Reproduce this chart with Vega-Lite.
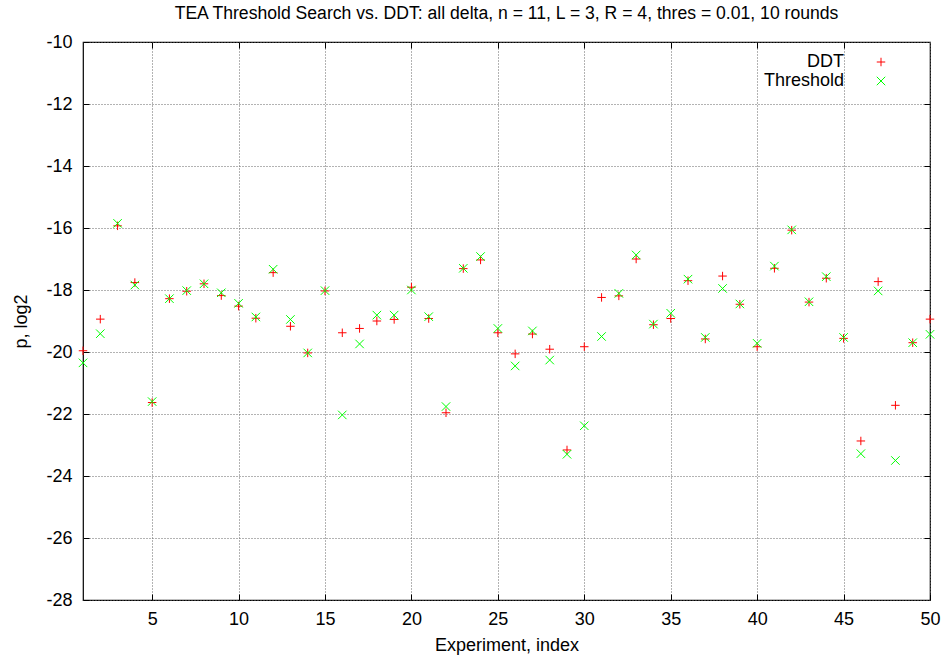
{
  "$schema": "https://vega.github.io/schema/vega-lite/v6.json",
  "width": 847,
  "height": 558,
  "autosize": {"type": "none"},
  "padding": {"left": 83, "top": 42, "right": 17, "bottom": 63},
  "background": "white",
  "title": {
    "text": "TEA Threshold Search vs. DDT: all delta, n = 11, L = 3, R = 4, thres = 0.01, 10 rounds",
    "font": "Liberation Sans",
    "fontSize": 17.6,
    "fontWeight": "normal",
    "color": "black",
    "offset": 10
  },
  "config": {
    "view": {"stroke": "black", "strokeWidth": 1.2},
    "axis": {
      "labelFont": "Liberation Sans",
      "labelFontSize": 18,
      "labelColor": "black",
      "titleFont": "Liberation Sans",
      "titleFontSize": 18,
      "titleFontWeight": "normal",
      "titleColor": "black",
      "domain": false,
      "tickColor": "black",
      "tickWidth": 1,
      "gridColor": "#666666",
      "gridDash": [1, 2],
      "gridWidth": 1,
      "gridOpacity": 1
    },
    "legend": {
      "labelFont": "Liberation Sans",
      "labelFontSize": 18,
      "labelColor": "black"
    }
  },
  "data": {
    "values": [
      {"i": 1, "DDT": -19.96, "Threshold": -20.35},
      {"i": 2, "DDT": -18.94, "Threshold": -19.41},
      {"i": 3, "DDT": -15.93, "Threshold": -15.85},
      {"i": 4, "DDT": -17.76, "Threshold": -17.84},
      {"i": 5, "DDT": -21.63, "Threshold": -21.6},
      {"i": 6, "DDT": -18.28, "Threshold": -18.28},
      {"i": 7, "DDT": -18.04, "Threshold": -18.02},
      {"i": 8, "DDT": -17.8, "Threshold": -17.8},
      {"i": 9, "DDT": -18.18, "Threshold": -18.09},
      {"i": 10, "DDT": -18.52, "Threshold": -18.43},
      {"i": 11, "DDT": -18.91, "Threshold": -18.87},
      {"i": 12, "DDT": -17.44, "Threshold": -17.33},
      {"i": 13, "DDT": -19.17, "Threshold": -18.95},
      {"i": 14, "DDT": -20.03, "Threshold": -20.03},
      {"i": 15, "DDT": -18.03, "Threshold": -18.02},
      {"i": 16, "DDT": -19.38, "Threshold": -22.03},
      {"i": 17, "DDT": -19.24, "Threshold": -19.74},
      {"i": 18, "DDT": -19.0, "Threshold": -18.81},
      {"i": 19, "DDT": -18.95, "Threshold": -18.81},
      {"i": 20, "DDT": -17.91, "Threshold": -18.0},
      {"i": 21, "DDT": -18.92, "Threshold": -18.86},
      {"i": 22, "DDT": -21.96, "Threshold": -21.76},
      {"i": 23, "DDT": -17.31, "Threshold": -17.3},
      {"i": 24, "DDT": -17.03, "Threshold": -16.92},
      {"i": 25, "DDT": -19.38, "Threshold": -19.24},
      {"i": 26, "DDT": -20.06, "Threshold": -20.45},
      {"i": 27, "DDT": -19.42, "Threshold": -19.32},
      {"i": 28, "DDT": -19.91, "Threshold": -20.26},
      {"i": 29, "DDT": -23.16, "Threshold": -23.3},
      {"i": 30, "DDT": -19.83, "Threshold": -22.38},
      {"i": 31, "DDT": -18.24, "Threshold": -19.5},
      {"i": 32, "DDT": -18.19, "Threshold": -18.11},
      {"i": 33, "DDT": -17.0, "Threshold": -16.87},
      {"i": 34, "DDT": -19.12, "Threshold": -19.1},
      {"i": 35, "DDT": -18.92, "Threshold": -18.75},
      {"i": 36, "DDT": -17.7, "Threshold": -17.65},
      {"i": 37, "DDT": -19.58, "Threshold": -19.53},
      {"i": 38, "DDT": -17.55, "Threshold": -17.95},
      {"i": 39, "DDT": -18.46, "Threshold": -18.45},
      {"i": 40, "DDT": -19.83, "Threshold": -19.72},
      {"i": 41, "DDT": -17.3, "Threshold": -17.23},
      {"i": 42, "DDT": -16.07, "Threshold": -16.06},
      {"i": 43, "DDT": -18.39, "Threshold": -18.38},
      {"i": 44, "DDT": -17.62, "Threshold": -17.57},
      {"i": 45, "DDT": -19.56, "Threshold": -19.53},
      {"i": 46, "DDT": -22.87, "Threshold": -23.28},
      {"i": 47, "DDT": -17.73, "Threshold": -18.03},
      {"i": 48, "DDT": -21.72, "Threshold": -23.5},
      {"i": 49, "DDT": -19.7, "Threshold": -19.7},
      {"i": 50, "DDT": -18.94, "Threshold": -19.43}
    ]
  },
  "transform": [{"fold": ["DDT", "Threshold"], "as": ["series", "p"]}],
  "resolve": {"axis": {"x": "independent", "y": "independent"}},
  "layer": [
    {
      "mark": {"type": "point", "filled": false, "strokeWidth": 1, "opacity": 1, "size": 72},
      "encoding": {
        "x": {
          "field": "i", "type": "quantitative",
          "scale": {"domain": [1, 50], "nice": false, "zero": false},
          "axis": {"values": [5, 10, 15, 20, 25, 30, 35, 40, 45, 50], "title": "Experiment, index", "tickSize": -6, "labelPadding": 16, "titlePadding": 8, "grid": true, "labelFlush": false}
        },
        "y": {
          "field": "p", "type": "quantitative",
          "scale": {"domain": [-28, -10], "nice": false, "zero": false},
          "axis": {"values": [-28, -26, -24, -22, -20, -18, -16, -14, -12, -10], "title": "p, log2", "tickSize": -6, "labelPadding": 17, "titlePadding": 15, "grid": true, "labelExpr": "replace(datum.label, '\u2212', '-')"}
        },
        "color": {
          "field": "series", "type": "nominal",
          "scale": {"domain": ["DDT", "Threshold"], "range": ["#ff0000", "#00ff00"]},
          "legend": {"title": null, "orient": "none", "legendX": 789, "legendY": 11, "labelAlign": "right", "labelOffset": -46, "symbolStrokeWidth": 1, "symbolSize": 72, "rowPadding": 1}
        },
        "shape": {
          "field": "series", "type": "nominal",
          "scale": {"domain": ["DDT", "Threshold"], "range": ["M-1,0L1,0M0,-1L0,1", "M-1,-1L1,1M-1,1L1,-1"]},
          "legend": {"title": null, "orient": "none", "legendX": 789, "legendY": 11, "labelAlign": "right", "labelOffset": -46, "symbolStrokeWidth": 1, "symbolSize": 72, "rowPadding": 1}
        }
      }
    },
    {
      "mark": {"type": "point", "opacity": 0},
      "encoding": {
        "x": {
          "field": "i", "type": "quantitative",
          "scale": {"domain": [1, 50], "nice": false, "zero": false},
          "axis": {"orient": "top", "values": [5, 10, 15, 20, 25, 30, 35, 40, 45], "title": null, "labels": false, "tickSize": -6, "grid": false}
        },
        "y": {
          "field": "p", "type": "quantitative",
          "scale": {"domain": [-28, -10], "nice": false, "zero": false},
          "axis": {"orient": "right", "values": [-26, -24, -22, -20, -18, -16, -14, -12], "title": null, "labels": false, "tickSize": -6, "grid": false}
        }
      }
    }
  ]
}
